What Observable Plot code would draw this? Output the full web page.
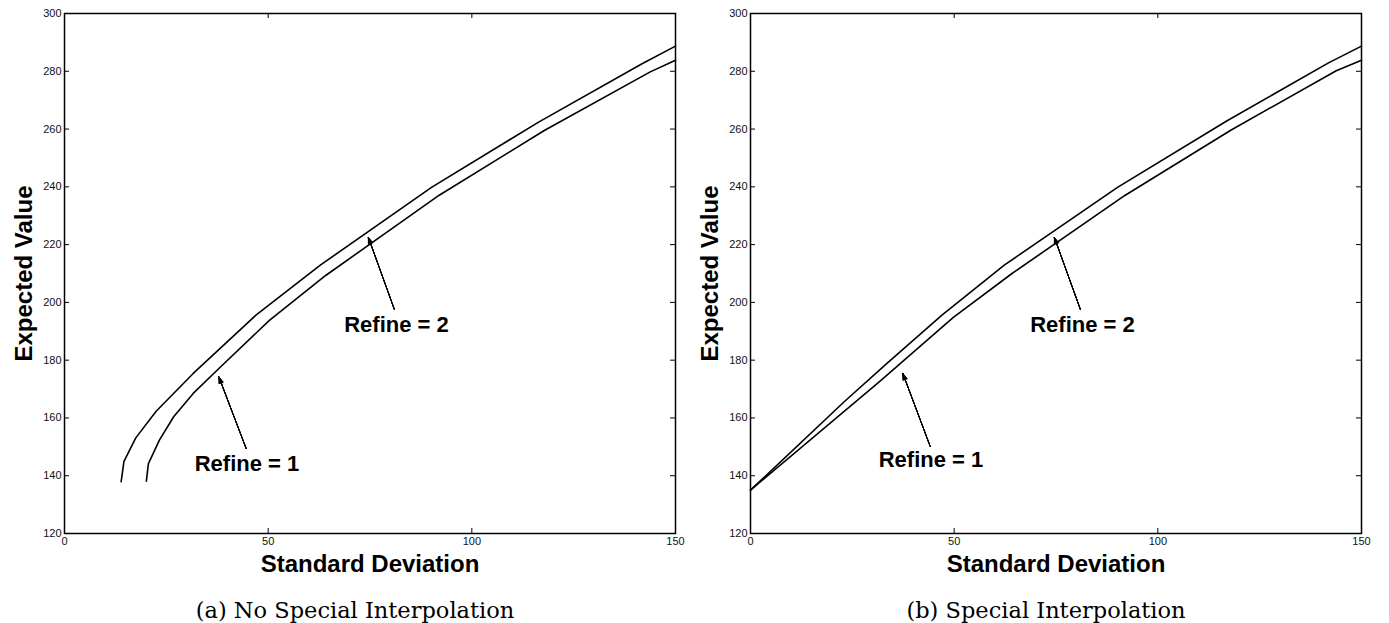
<!DOCTYPE html>
<html>
<head>
<meta charset="utf-8">
<script src="https://cdn.jsdelivr.net/npm/d3@7"></script>
<script src="https://cdn.jsdelivr.net/npm/@observablehq/plot@0.6"></script>
<style>
  html, body { margin: 0; padding: 0; background: white; }
  #wrap { position: relative; width: 1389px; height: 623px; overflow: hidden; }
  #left { position: absolute; left: 0; top: 0; }
  #right { position: absolute; left: 690px; top: 0; }
</style>
</head>
<body>
<div id="wrap"><div id="left"></div><div id="right"></div></div>
<script>
// ---- Data ----
const xTicks = [0, 50, 100, 150];
const yTicks = [120, 140, 160, 180, 200, 220, 240, 260, 280, 300];

// Panel (a): No Special Interpolation
const aUpperSD = [13.9, 14.6, 17.5, 22.5, 31.6, 47.0, 62.8, 90.1, 116.5, 141.9, 150.0];
const aUpperEV = [137.9, 145.0, 153.1, 162.3, 175.4, 195.6, 212.9, 239.8, 262.5, 282.7, 288.7];
const aLowerSD = [20.1, 20.6, 23.3, 26.8, 31.6, 37.9, 50.3, 64.2, 92.0, 117.9, 143.8, 150.0];
const aLowerEV = [138.1, 144.2, 152.3, 160.4, 168.5, 177.1, 193.8, 209.4, 237.1, 259.6, 279.8, 283.8];

// Panel (b): Special Interpolation
const bUpperSD = [0, 23.0, 33.5, 47.0, 62.3, 90.1, 116.9, 141.9, 150.0];
const bUpperEV = [135.0, 165.6, 178.9, 195.6, 212.9, 239.8, 262.8, 282.9, 288.7];
const bLowerSD = [0, 31.6, 49.8, 64.2, 92.0, 117.9, 143.8, 150.0];
const bLowerEV = [135.0, 172.5, 194.8, 210.0, 237.1, 259.6, 280.2, 283.8];

// Annotations
const labelTexts = ["Refine = 1", "Refine = 2"];
const aLabelSD = [44.8, 81.5], aLabelEV = [144.2, 192.1];
const aArrowFromSD = [44.6, 81.0], aArrowFromEV = [149.4, 197.5];
const aArrowToSD = [37.9, 74.6], aArrowToEV = [174.2, 222.5];
const bLabelSD = [44.3, 81.5], bLabelEV = [145.4, 192.1];
const bArrowFromSD = [44.1, 81.0], bArrowFromEV = [150.2, 197.5];
const bArrowToSD = [37.4, 74.6], bArrowToEV = [175.4, 222.5];

const xLabel = "Standard Deviation";
const yLabel = "Expected Value";
const captions = ["(a) No Special Interpolation", "(b) Special Interpolation"];

// ---- Helpers ----
const zip = (xs, ys) => xs.map((x, i) => ({x, y: ys[i]}));

function panel({upper, lower, labels, arrows, caption, width, marginLeft, marginRight, captionDx}) {
  const sans = "Liberation Sans, Arial, Helvetica, sans-serif";
  // filled-looking arrow heads: several heads with increasing angle
  const arrowMarks = [40, 32, 24, 16, 8].map(a =>
    Plot.arrow(arrows, {x1: "x1", y1: "y1", x2: "x2", y2: "y2", stroke: "black", strokeWidth: 1, headLength: 10, headAngle: a})
  );
  return Plot.plot({
    width, height: 623,
    marginTop: 13, marginBottom: 90, marginLeft, marginRight,
    x: {domain: [0, 150]},
    y: {domain: [120, 300]},
    style: {fontFamily: sans, color: "black", background: "white", overflow: "visible"},
    marks: [
      Plot.frame({stroke: "black", strokeWidth: 1.5}),
      Plot.tickX(xTicks, {x: d => d, insetTop: 515, stroke: "black", strokeWidth: 1}),
      Plot.tickX(xTicks, {x: d => d, insetBottom: 515, stroke: "black", strokeWidth: 1}),
      Plot.tickY(yTicks, {y: d => d, insetRight: 606, stroke: "black", strokeWidth: 1}),
      Plot.tickY(yTicks, {y: d => d, insetLeft: 606, stroke: "black", strokeWidth: 1}),
      Plot.axisX({ticks: xTicks, tickSize: 0, tickPadding: 4, fontSize: 11, label: null, fill: "#111"}),
      Plot.axisY({ticks: yTicks, tickSize: 0, tickPadding: 3, fontSize: 11, label: null, fill: "#111"}),
      Plot.line(upper, {x: "x", y: "y", stroke: "black", strokeWidth: 1.6}),
      Plot.line(lower, {x: "x", y: "y", stroke: "black", strokeWidth: 1.6}),
      ...arrowMarks,
      Plot.text(labels, {x: "x", y: "y", text: "t", fontSize: 22, fontWeight: "bold", fill: "black", lineAnchor: "middle"}),
      Plot.text([xLabel], {frameAnchor: "bottom", dy: 31, fontSize: 24, fontWeight: "bold", fill: "black", textAnchor: "middle", lineAnchor: "middle"}),
      Plot.text([yLabel], {frameAnchor: "left", dx: -40, rotate: -90, fontSize: 24, fontWeight: "bold", fill: "black", textAnchor: "middle", lineAnchor: "middle"}),
      Plot.text([caption], {frameAnchor: "bottom", dy: 77, dx: captionDx, fontSize: 22.5, fontFamily: "DejaVu Serif, Liberation Serif, serif", fill: "black", textAnchor: "middle", lineAnchor: "middle"})
    ]
  });
}

const mkLabels = (xs, ys) => xs.map((x, i) => ({x, y: ys[i], t: labelTexts[i]}));
const mkArrows = (fx, fy, tx, ty) => fx.map((x, i) => ({x1: x, y1: fy[i], x2: tx[i], y2: ty[i]}));

document.getElementById("left").appendChild(panel({
  upper: zip(aUpperSD, aUpperEV),
  lower: zip(aLowerSD, aLowerEV),
  labels: mkLabels(aLabelSD, aLabelEV),
  arrows: mkArrows(aArrowFromSD, aArrowFromEV, aArrowToSD, aArrowToEV),
  caption: captions[0],
  width: 690, marginLeft: 64, marginRight: 15, captionDx: -15
}));

document.getElementById("right").appendChild(panel({
  upper: zip(bUpperSD, bUpperEV),
  lower: zip(bLowerSD, bLowerEV),
  labels: mkLabels(bLabelSD, bLabelEV),
  arrows: mkArrows(bArrowFromSD, bArrowFromEV, bArrowToSD, bArrowToEV),
  caption: captions[1],
  width: 699, marginLeft: 60, marginRight: 28, captionDx: -10
}));
</script>
</body>
</html>
